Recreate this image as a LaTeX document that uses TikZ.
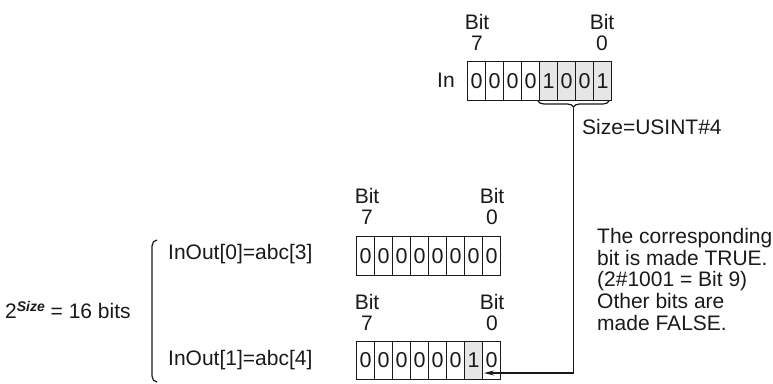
\documentclass[tikz,border=0pt]{standalone}
\usepackage{fontspec}
\setmainfont{Liberation Sans}
\usetikzlibrary{arrows.meta,decorations.pathreplacing}
\definecolor{cellgray}{HTML}{E6E6E6}
\definecolor{ink}{HTML}{1A1A1A}
\tikzset{
  txt/.style={font=\fontsize{21}{21}\selectfont, inner sep=0pt, text=ink},
  cell/.style={draw=ink, line width=1.2pt, minimum width=18pt, minimum height=38.5pt,
    inner sep=0pt, anchor=north west, font=\fontsize{21.5}{24}\selectfont, text=ink},
  wire/.style={line width=1.2pt, draw=ink},
}
\begin{document}
\begin{tikzpicture}[x=1pt,y=-1pt]
\useasboundingbox (0,0) rectangle (773,383);
% top register In
\foreach \v/\f [count=\i from 0] in {0/white,0/white,0/white,0/white,1/cellgray,0/cellgray,0/cellgray,1/cellgray}
  \node[cell, fill=\f] (in\i) at ({467+18*\i},61) {\v};
\node[txt, align=center] (inl7) at (477,32) {Bit\\7};
\node[txt, align=center] (inl0) at (602,32) {Bit\\0};
\node[txt] (inlbl) at (446,80) {In};
% bottom register 1
\foreach \v/\f [count=\i from 0] in {0/white,0/white,0/white,0/white,0/white,0/white,0/white,0/white}
  \node[cell, fill=\f] (a\i) at ({356+18*\i},236) {\v};
\node[txt, align=center] (al7) at (367,206) {Bit\\7};
\node[txt, align=center] (al0) at (492,206) {Bit\\0};
% bottom register 2
\foreach \v/\f [count=\i from 0] in {0/white,0/white,0/white,0/white,0/white,0/white,1/cellgray,0/white}
  \node[cell, fill=\f] (b\i) at ({356+18*\i},340.5) {\v};
\node[txt, align=center] (bl7) at (367,312) {Bit\\7};
\node[txt, align=center] (bl0) at (492,312) {Bit\\0};
% brace and connector
\draw[wire, decorate, decoration={brace, mirror, amplitude=6pt}] (538,101) -- (609,101);
\coordinate (btip) at (573.5,107.5);
\coordinate (aend) at (484,373);
\draw[wire, -{Stealth[length=10pt,width=5pt]}] (btip) |- (aend);
\node[txt, anchor=west] (size) at (582,127) {Size=USINT\#4};
% left texts
\node[txt, anchor=west] (io0) at (168,254) {InOut[0]=abc[3]};
\node[txt, anchor=west] (io1) at (168,360) {InOut[1]=abc[4]};
\draw[wire] (157,240) to[out=180,in=90] (152,246) -- (152,376) to[out=-90,in=180] (157,382);
\node[txt, anchor=west] (bits) at (5,310) {2\raisebox{7.5pt}{\fontsize{14}{14}\selectfont\bfseries\itshape Size} = 16 bits};
\node[txt, anchor=north west, align=left, font=\fontsize{21}{21.7}\selectfont] (note) at (597,228)
  {The corresponding\\bit is made TRUE.\\(2\#1001 = Bit 9)\\Other bits are\\made FALSE.};
\end{tikzpicture}
\end{document}
